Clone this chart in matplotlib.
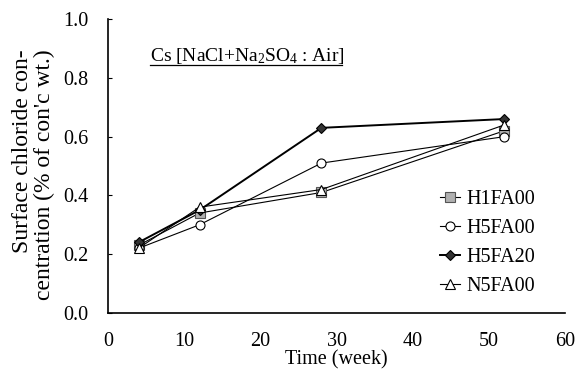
import matplotlib
matplotlib.use("Agg")
import matplotlib.pyplot as plt
import numpy as np

plt.rcParams['font.family'] = ['Liberation Serif', 'DejaVu Serif']
plt.rcParams['mathtext.fontset'] = 'custom'
plt.rcParams['mathtext.rm'] = 'Liberation Serif'
plt.rcParams['mathtext.it'] = 'Liberation Serif:italic'

# exposure time (weeks) and surface chloride (% of concrete weight)
weeks = [4, 12, 28, 52]
h1fa00 = [0.23, 0.34, 0.41, 0.62]
h5fa00 = [0.22, 0.30, 0.51, 0.60]
h5fa20 = [0.24, 0.35, 0.63, 0.66]
n5fa00 = [0.22, 0.36, 0.42, 0.64]

x_ticks = [0, 10, 20, 30, 40, 50, 60]
y_ticks = [0.0, 0.2, 0.4, 0.6, 0.8, 1.0]

fig = plt.figure(figsize=(5.78, 3.83), dpi=100)
ax = fig.add_axes([0.187, 0.183, 0.791, 0.767])

ax.plot(weeks, h1fa00, color='black', lw=0.8, marker='s', ms=6.5,
        mfc='#b0b0b0', mec='#555555', mew=0.8, label='H1FA00')
ax.plot(weeks, h5fa00, color='black', lw=0.8, marker='o', ms=6.5,
        mfc='white', mec='black', mew=0.8, label='H5FA00')
ax.plot(weeks, h5fa20, color='black', lw=1.4, marker='D', ms=5,
        mfc='#333333', mec='black', mew=0.8, label='H5FA20')
ax.plot(weeks, n5fa00, color='black', lw=0.8, marker='^', ms=7,
        mfc='white', mec='black', mew=0.8, label='N5FA00')

ax.set_xlim(0, 60)
ax.set_ylim(0, 1.0)
ax.set_xticks(x_ticks)
ax.set_yticks(y_ticks)
ax.set_yticklabels(['%.1f' % v for v in y_ticks])
ax.tick_params(direction='in', length=3, labelsize=14.5, width=0.8)
ax.tick_params(axis='x', length=0, pad=14)
ax.tick_params(axis='y', pad=14)
ax.spines['top'].set_visible(False)
ax.spines['right'].set_visible(False)
ax.spines['left'].set_linewidth(1.2)
ax.spines['bottom'].set_linewidth(1.2)

ax.set_xlabel('Time (week)', fontsize=14.5, labelpad=-1)
ax.set_ylabel("Surface chloride con-\ncentration (% of con'c wt.)",
              fontsize=17, linespacing=1.08, multialignment='right')
ax.yaxis.set_label_coords(-0.116, 0.47)

# underlined condition label
ax.text(0.092, 0.857, r'Cs [NaCl+Na$_2$SO$_4$ : Air]', transform=ax.transAxes,
        fontsize=14, ha='left', va='baseline')
ax.plot([0.092, 0.512], [0.843, 0.843], transform=ax.transAxes,
        color='black', lw=0.9, clip_on=False)

ax.legend(loc='center left', bbox_to_anchor=(0.695, 0.238), frameon=False,
          fontsize=14.5, handlelength=1.0, handletextpad=0.3,
          labelspacing=0.5, borderpad=0.2)

fig.savefig('out.png', dpi=100)
